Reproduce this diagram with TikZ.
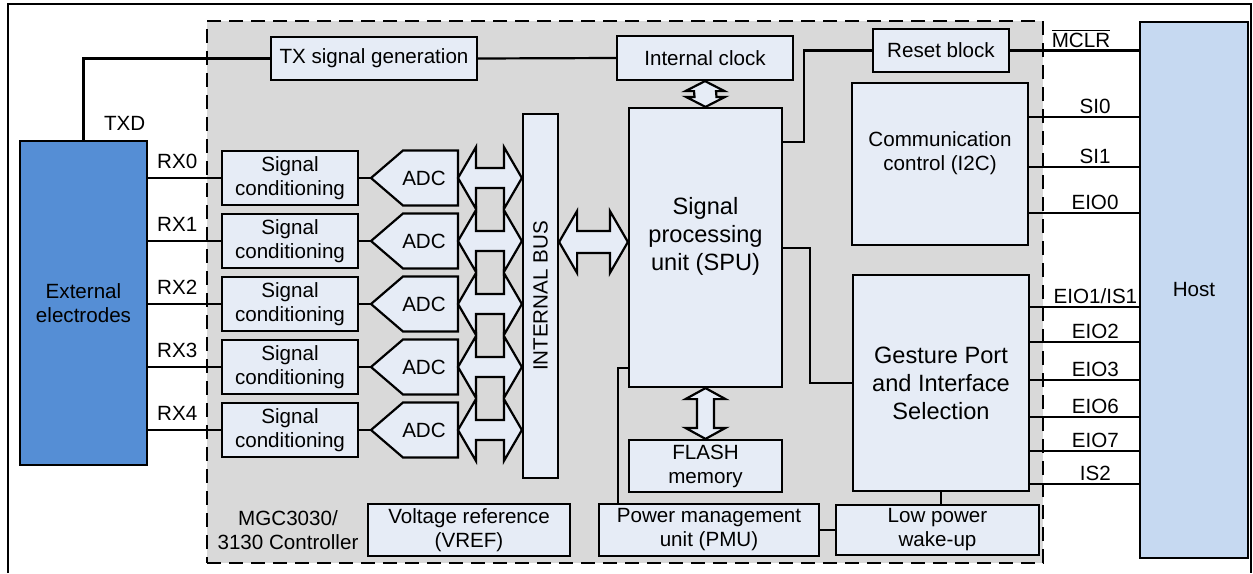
\documentclass[tikz,border=0pt]{standalone}
\usepackage{fontspec}
\setmainfont{Liberation Sans}
\usetikzlibrary{calc}
\definecolor{blkfill}{HTML}{E6ECF6}
\definecolor{chipgray}{HTML}{D9D9D9}
\definecolor{elecblue}{HTML}{558ED5}
\definecolor{hostblue}{HTML}{C6D9F1}

% fat double arrows: tip, tip, head length, head half width, shaft half width
\newcommand{\hbus}[5]{%
  \draw[fat] (#1) -- ++(#3,#4) -- ++(0,#5-#4) -- ($(#2)+(-#3,#5)$) -- ++(0,#4-#5) -- (#2)
    -- ++(-#3,-#4) -- ++(0,#4-#5) -- ($(#1)+(#3,-#5)$) -- ++(0,#5-#4) -- cycle;}
\newcommand{\vbus}[5]{%
  \draw[fat] (#1) -- ++(#4,-#3) -- ++(#5-#4,0) -- ($(#2)+(#5,#3)$) -- ++(#4-#5,0) -- (#2)
    -- ++(-#4,#3) -- ++(#4-#5,0) -- ($(#1)+(-#5,-#3)$) -- ++(#5-#4,0) -- cycle;}

\begin{document}
\begin{tikzpicture}[x=0.5pt,y=0.5pt,font=\fontsize{10.3}{12}\selectfont]

\tikzset{
blk/.style={draw, line width=1.1pt, fill=blkfill, align=center, inner sep=1pt},
big/.style={font=\fontsize{11.8}{14}\selectfont},
wire/.style={line width=1.1pt},
fat/.style={draw, line width=1.1pt, fill=blkfill, line join=miter},
adcshape/.style={draw, line width=1.1pt, fill=blkfill},
pin/.style={above, inner sep=1pt}
}

\useasboundingbox (0,0) rectangle (1253,-573);
\draw[line width=1.1pt] (8,-573) -- (8,-4) -- (1251,-4) -- (1251,-573);

% controller outline
\node[draw, dashed, dash pattern=on 7pt off 4pt, line width=1.4pt, fill=chipgray,
  minimum width=418pt, minimum height=271pt] (chip) at (625,-292) {};
\node[align=center] (chipname) at (288,-530) {MGC3030/\\3130 Controller};

% outside blocks
\node[blk, fill=elecblue, minimum width=63.5pt, minimum height=162pt] (elec) at (83.5,-303) {External\\electrodes};
\node[blk, fill=hostblue, minimum width=54pt, minimum height=268pt] (host) at (1194,-290) {Host};

% inside blocks
\node[blk, minimum width=103pt, minimum height=21.5pt] (txgen) at (374,-58.5) {TX signal generation};
\node[blk, minimum width=88pt, minimum height=22pt] (clock) at (705,-58) {Internal clock};
\node[blk, minimum width=76.5pt, minimum height=139.5pt,
  label={[big, align=center, yshift=5.5pt]center:Signal\\processing\\unit (SPU)}] (spu) at (705.5,-247.5) {};
\node[blk, minimum width=68pt, minimum height=21.5pt] (reset) at (941,-50.5) {Reset block};
\node[blk, minimum width=88pt, minimum height=81pt,
  label={[align=center, yshift=5.5pt]center:Communication\\control (I2C)}] (comm) at (940,-164) {};
\node[blk, big, minimum width=88pt, minimum height=108pt] (gesture) at (941,-383) {Gesture Port\\and Interface\\Selection};
\node[blk, minimum width=101.5pt, minimum height=25pt] (lowpow) at (937.5,-530) {Low power\\wake-up};
\node[blk, minimum width=110pt, minimum height=26pt] (pmu) at (709,-530) {Power management\\unit (PMU)};
\node[blk, minimum width=76.5pt, minimum height=26pt] (flash) at (705.5,-466) {FLASH\\memory};
\node[blk, minimum width=101pt, minimum height=26pt] (vref) at (469,-530) {Voltage reference\\(VREF)};
\node[blk, minimum width=17.5pt, minimum height=182pt] (bus) at (540.5,-296) {};
\node[rotate=90] (buslabel) at (bus.center) {INTERNAL BUS};

% receive channels
\foreach \i in {0,...,4}{
  \pgfmathsetmacro{\y}{-178-63*\i}
  \node[blk, minimum width=68pt, minimum height=27pt] (sc\i) at (290,\y) {Signal\\conditioning};
  \coordinate (adcin\i) at (371,\y);
  \coordinate (adcR\i) at (458,\y);
  \draw[adcshape] (adcin\i) -- ++(32,27.5) -- ++(55,0) -- ++(0,-55) -- ++(-55,0) -- cycle;
  \node (adc\i) at (424,\y) {ADC};
  \draw[wire] (sc\i.east) -- (adcin\i);
  \draw[wire] (elec.east |- sc\i.west) -- (sc\i.west) node[pos=0.4, above, inner sep=4pt] {RX\i};
}
\foreach \i in {0,...,4}{
  \coordinate (busL\i) at (bus.west |- adcR\i);
  \hbus{adcR\i}{busL\i}{18}{31}{10}
}

% transmit path
\draw[wire] (elec.north) node[above right, xshift=7.75pt, yshift=2pt, inner sep=2pt] {TXD} |- (txgen.west);
\draw[wire] (txgen.east) -- (clock.west);

% buses to the SPU
\coordinate (busR) at (bus.east |- 0,-242);
\coordinate (spuL) at (spu.west |- 0,-242);
\hbus{busR}{spuL}{18}{31}{11}
\vbus{clock.south}{spu.north}{10}{19.5}{11}
\vbus{spu.south}{flash.north}{11}{20}{8.5}

% control wiring
\draw[wire] (spu.east |- 0,-142) -- ++(21,0) |- (reset.west);
\draw[wire] (reset.east) -- (host.west |- reset.east) node[pos=0.55, pin] {\(\overline{\mbox{MCLR}}\)};
\draw[wire] (spu.east |- 0,-248) -- ++(27,0) |- (gesture.west);
\draw[wire] (spu.west |- 0,-368) -| ([xshift=10pt]pmu.north west);
\draw[wire] (pmu.east) -- (lowpow.west);
\draw[wire] (gesture.south) -- (gesture.south |- lowpow.north);

% host lines
\foreach \y/\lbl in {117/SI0, 167/SI1, 213/EIO0}{
  \draw[wire] (comm.east |- 0,-\y) -- (host.west |- 0,-\y) node[pos=0.6, pin] {\lbl};
}
\foreach \y/\lbl in {307/{EIO1/IS1}, 342/EIO2, 380/EIO3, 417/EIO6, 451/EIO7, 484/IS2}{
  \draw[wire] (gesture.east |- 0,-\y) -- (host.west |- 0,-\y) node[pos=0.6, pin] {\lbl};
}

\end{tikzpicture}
\end{document}
